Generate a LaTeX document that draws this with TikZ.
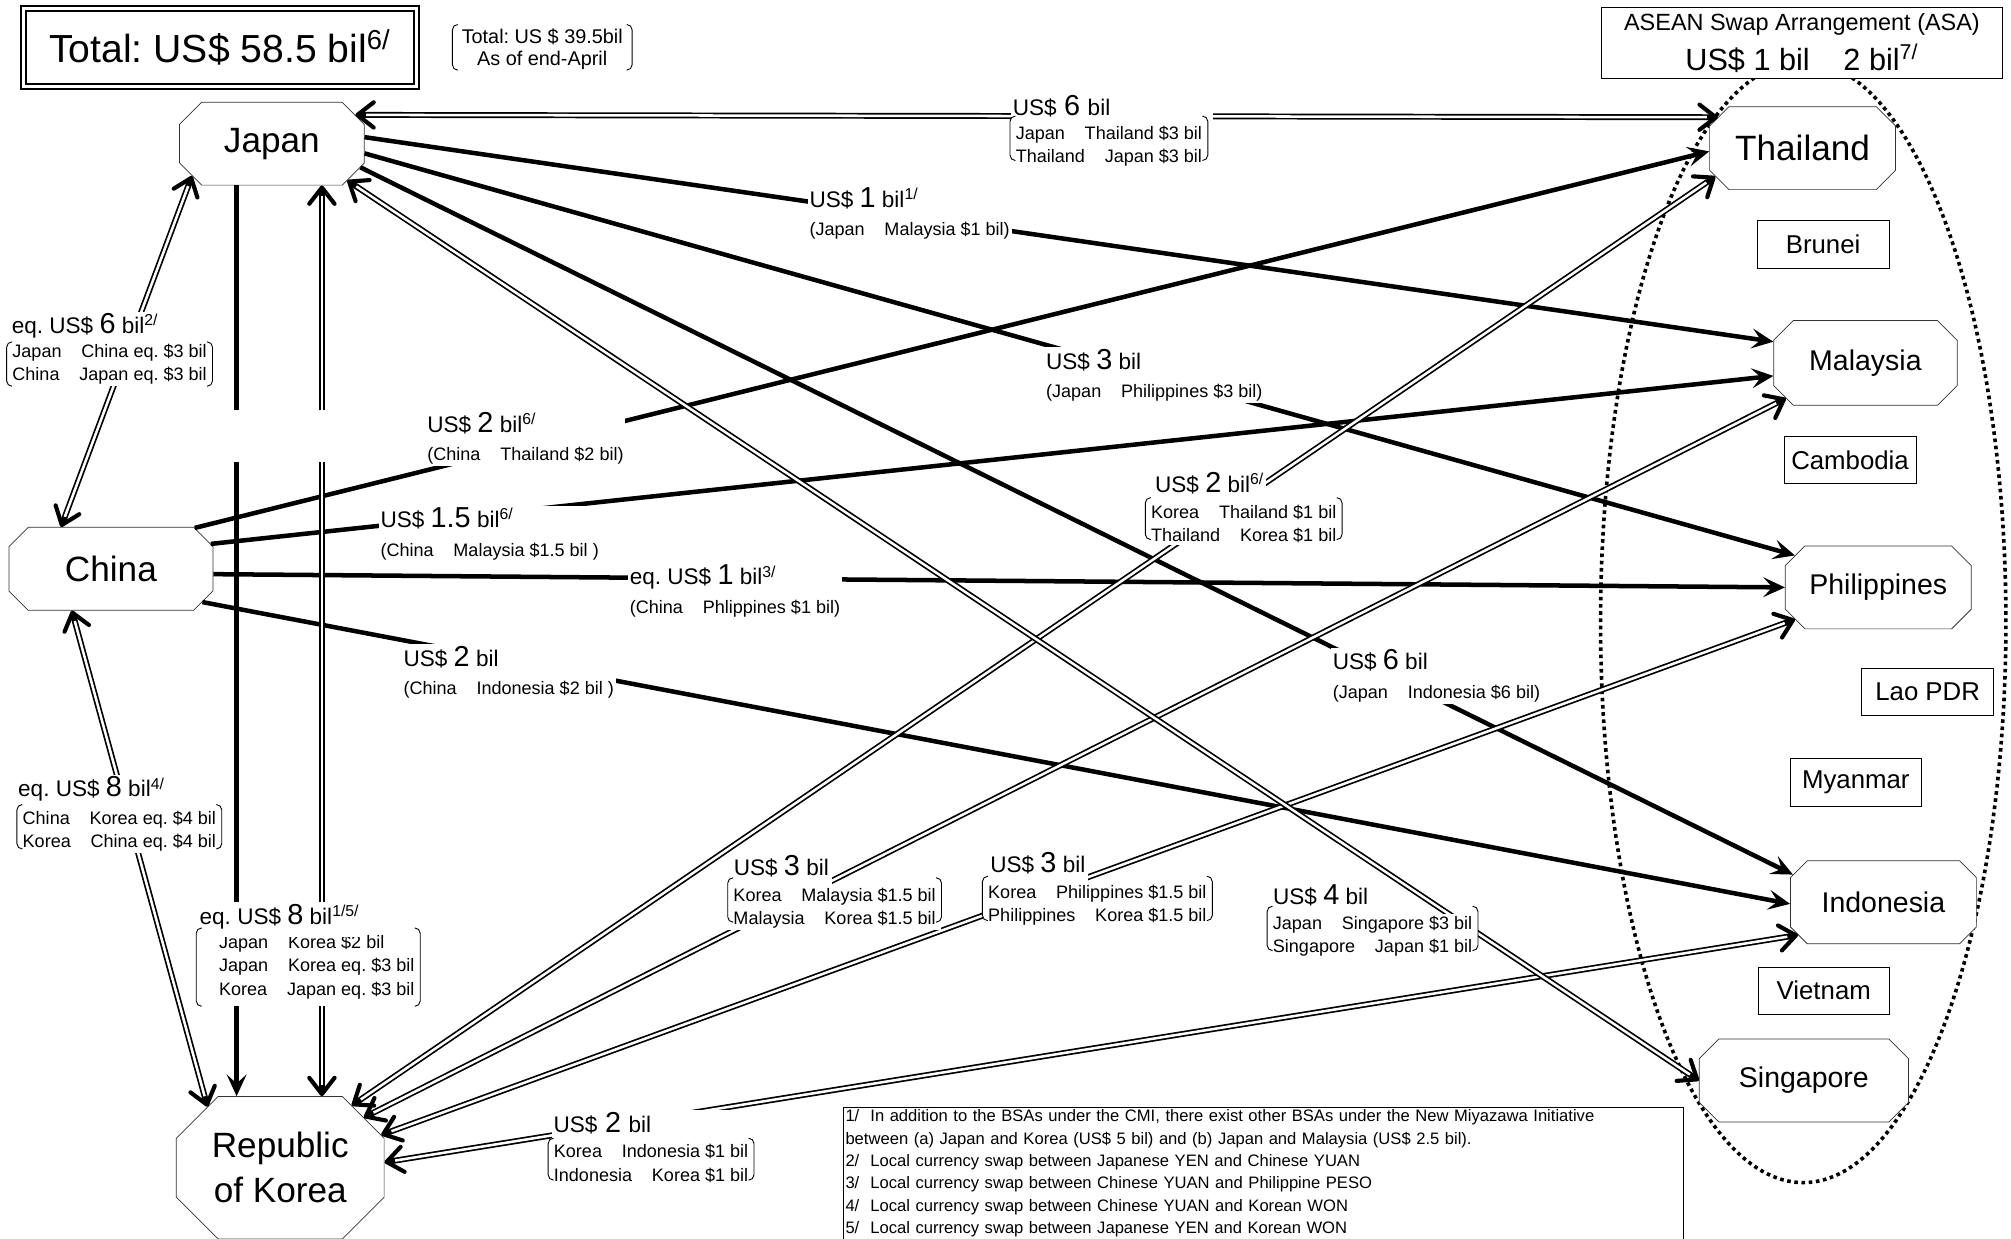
\documentclass[tikz,border=0pt]{standalone}
\usepackage{fontspec}
\setmainfont{Liberation Sans}
\usetikzlibrary{arrows.meta,positioning,shapes.misc}
\frenchspacing
\newcommand{\gap}{\hspace{1.1em}}
\newcommand{\usd}[2]{US\$ {\fontsize{16}{16}\selectfont #1} bil\textsuperscript{#2}}
\newcommand{\detl}[1]{{\fontsize{10}{12}\selectfont #1}}
\newcommand{\pairbrk}[2]{%
  \draw[brk] ([xshift=3pt,yshift=#2]#1.north west) -- ([yshift=#2]#1.north west)
    -- ([yshift=#2]#1.south west) -- ([xshift=3pt,yshift=#2]#1.south west);
  \draw[brk] ([xshift=-3pt,yshift=#2]#1.north east) -- ([yshift=#2]#1.north east)
    -- ([yshift=#2]#1.south east) -- ([xshift=-3pt,yshift=#2]#1.south east);}
\tikzset{
  dtip/.tip={Straight Barb[length=9pt,width=14pt,line width=2.3pt,round]},
  stip/.tip={Stealth[length=12pt,width=11pt,inset=5pt]},
  bigoct/.style={chamfered rectangle,chamfered rectangle xsep=13.5pt,draw=black!80,thin,fill=white,inner sep=0pt,minimum height=46pt,align=center,font=\fontsize{19.5}{25}\selectfont},
  oct/.style={bigoct,font=\fontsize{15.8}{19}\selectfont},
  member/.style={rectangle,draw,thin,fill=white,minimum width=73pt,minimum height=26.3pt,font=\fontsize{14.3}{17}\selectfont},
  titlebox/.style={rectangle,draw,double,line width=1pt,double distance=1.6pt,minimum width=217.7pt,minimum height=43.4pt,font=\fontsize{21.7}{26}\selectfont},
  asabox/.style={rectangle,draw,thin,fill=white,align=center,minimum width=222pt,minimum height=39pt,font=\fontsize{13}{22.5}\selectfont},
  notebox/.style={rectangle,draw,thin,fill=white,anchor=north west,align=left,inner sep=1.4pt,text width=463pt,font=\fontsize{9.2}{12.4}\selectfont},
  amt/.style={fill=white,inner sep=1pt,anchor=base west,text depth=6pt,font=\fontsize{12.5}{15}\selectfont},
  lbl/.style={fill=white,inner sep=1pt,anchor=west,align=left,font=\fontsize{12.5}{15.7}\selectfont},
  det/.style={fill=white,inner xsep=3pt,inner ysep=1pt,anchor=north west,align=left,font=\fontsize{10}{12.8}\selectfont},
  brk/.style={line width=0.5pt,rounded corners=3pt},
  ring/.style={line width=2pt,dash pattern=on 2pt off 2pt},
  jarrow/.style={line width=2.5pt,-stip},
  dbl/.style={line width=3.3pt,dtip-dtip,postaction={draw=white,line width=1.4pt,-,shorten <=6pt,shorten >=6pt}},
  dblhalf/.style={line width=3.3pt,-dtip,postaction={draw=white,line width=1.4pt,-,shorten >=6pt}}
}
\begin{document}
\begin{tikzpicture}[x=0.025cm,y=-0.025cm]
  \useasboundingbox (0,0) rectangle (1568,966);
  \clip (0,0) rectangle (1568,966);

  % ASA ring
  \draw[ring] (1406,485) ellipse [x radius=3.95cm,y radius=10.925cm];

  % countries
  \node[bigoct,minimum width=102.4pt] (japan) at (212,112) {Japan};
  \node[bigoct,minimum width=113.1pt] (china) at (86.5,443.5) {China};
  \node[bigoct,minimum width=110.3pt,minimum height=79pt,chamfered rectangle xsep=20pt] (korea) at (218.5,910.5) {Republic\\of Korea};
  \node[bigoct,minimum width=103.1pt] (thailand) at (1405.5,115.5) {Thailand};
  \node[oct,minimum width=101.7pt,minimum height=47pt] (malaysia) at (1454.5,283) {Malaysia};
  \node[oct,minimum width=103.1pt] (philippines) at (1464.5,458) {Philippines};
  \node[oct,minimum width=103.1pt] (indonesia) at (1468.5,703.5) {Indonesia};
  \node[oct,minimum width=116pt] (singapore) at (1406.5,842.5) {Singapore};
  \node[member] (brunei) at (1421.5,190.5) {Brunei};
  \node[member] (cambodia) at (1442.5,358.5) {Cambodia};
  \node[member] (lao) at (1503,539.5) {Lao PDR};
  \node[member] (myanmar) at (1447,610) {Myanmar};
  \node[member] (vietnam) at (1422,772.5) {Vietnam};

  % headers
  \node[asabox] (asa) at (1405,33.5) {ASEAN Swap Arrangement (ASA)\\{\fontsize{17}{19}\selectfont US\$ 1 bil\gap 2 bil\textsuperscript{7/}}};
  \node[titlebox] (total) at (171.5,37) {Total: US\$ 58.5 bil\textsuperscript{6/}};
  \node[det,anchor=center,align=center,inner xsep=5pt,font=\fontsize{11}{12.5}\selectfont] (tot) at (422.8,38.3) {Total: US \$ 39.5bil\\As of end-April};

  % break in the Japan--Korea lines
  \coordinate (jkupS) at (184.5,320);
  \coordinate (jklowS) at (184.5,360);
  \coordinate (jkupD) at (251,320);
  \coordinate (jklowD) at (251,360);

  % one-way swaps
  \draw[jarrow] (japan.4.8) -- (malaysia.167.2);
  \draw[jarrow] (japan.354.8) -- (philippines.159.1);
  \draw[jarrow] (japan.345.2) -- (indonesia.163.4);
  \draw[jarrow] (japan.south -| jkupS) -- (jkupS) (jklowS) -- (korea.north -| jklowS);
  \draw[jarrow] (china.26.6) -- (thailand.182.2);
  \draw[jarrow] (china.14.4) -- (malaysia.188.4);
  \draw[jarrow] (china.357) -- (philippines.180.5);
  \draw[jarrow] (china.340) -- (indonesia.181.7);

  % two-way swaps
  \draw[dbl] (japan.19.5) -- (thailand.160.3);
  \draw[dblhalf] (jkupD) -- (japan.south -| jkupD);
  \draw[dblhalf] (jklowD) -- (korea.north -| jklowD);
  \draw[dbl] (china.140.9) -- (japan.202.1);
  \draw[dbl] (china.227.4) -- (korea.140.9);
  \draw[dbl] (korea.41.9) -- (thailand.198.6);
  \draw[dbl] (korea.31.9) -- (malaysia.204);
  \draw[dbl] (korea.18.5) -- (philippines.201.5);
  \draw[dbl] (korea.3.5) -- (indonesia.201.3);
  \draw[dbl] (japan.334.8) -- (singapore.west);

  % amounts on the one-way lines
  \node[lbl] (jmL) at (629.5,166.6) {\usd{1}{1/}\\\detl{(Japan\gap Malaysia \$1 bil)}};
  \node[lbl] (jpL) at (814,292.7) {\usd{3}{}\\\detl{(Japan\gap Philippines \$3 bil)}};
  \node[lbl] (jiL) at (1037.5,527) {\usd{6}{}\\\detl{(Japan\gap Indonesia \$6 bil)}};
  \node[lbl] (ctL) at (331.5,341.5) {\usd{2}{6/}\\\detl{(China\gap Thailand \$2 bil)}};
  \node[lbl] (cmL) at (295,416.2) {\usd{1.5}{6/}\\\detl{(China\gap Malaysia \$1.5 bil )}};
  \node[lbl] (cpL) at (489.4,460.8) {eq. \usd{1}{3/}\\\detl{(China\gap Phlippines \$1 bil)}};
  \node[lbl] (ciL) at (313,524.2) {\usd{2}{}\\\detl{(China\gap Indonesia \$2 bil )}};

  % amounts on the two-way lines
  \node[amt,text width=110pt] (jtA) at (788,90) {\usd{6}{}};
  \node[det] (jtD) at (787.5,96.8) {Japan\gap Thailand \$3 bil\\Thailand\gap Japan \$3 bil};
  \node[amt] (jcA) at (7.5,260) {eq. \usd{6}{2/}};
  \node[det] (jcD) at (5.2,266.5) {Japan\gap China eq. \$3 bil\\China\gap Japan eq. \$3 bil};
  \node[amt] (ckA) at (12.5,621.4) {eq. \usd{8}{4/}};
  \node[det] (ckD) at (13.2,630.8) {China\gap Korea eq. \$4 bil\\Korea\gap China eq. \$4 bil};
  \node[det,inner ysep=4pt] (jkD) at (153,723.5) {\hspace*{9.5pt}Japan\gap Korea \$2 bil\\ \hspace*{9.5pt}Japan\gap Korea eq. \$3 bil\\ \hspace*{9.5pt}Korea\gap Japan eq. \$3 bil};
  \node[amt] (jkA) at (154,720.5) {eq. \usd{8}{1/5/}};
  \node[amt] (ktA) at (899,383.7) {\usd{2}{6/}};
  \node[det] (ktD) at (893,392.5) {Korea\gap Thailand \$1 bil\\Thailand\gap Korea \$1 bil};
  \node[amt] (kmA) at (570.5,682.8) {\usd{3}{}};
  \node[det] (kmD) at (567.4,690.7) {Korea\gap Malaysia \$1.5 bil\\Malaysia\gap Korea \$1.5 bil};
  \node[amt] (kpA) at (770.5,680) {\usd{3}{}};
  \node[det] (kpD) at (766,688.1) {Korea\gap Philippines \$1.5 bil\\Philippines\gap Korea \$1.5 bil};
  \node[amt,text width=119pt] (kiA) at (430,882.8) {\usd{2}{}};
  \node[det] (kiD) at (427.4,890.8) {Korea\gap Indonesia \$1 bil\\Indonesia\gap Korea \$1 bil};
  \node[amt] (jsA) at (991,704.9) {\usd{4}{}};
  \node[det] (jsD) at (988,712.6) {Japan\gap Singapore \$3 bil\\Singapore\gap Japan \$1 bil};

  \foreach \n/\s in {jtD/4.5pt,jcD/0pt,ckD/2.5pt,jkD/0pt,ktD/3.2pt,kmD/4.5pt,kpD/3.5pt,kiD/2.4pt,jsD/4.3pt,tot/1pt}
    {\pairbrk{\n}{\s}}

  % footnotes
  \node[notebox] (notes) at (657,863) {1/\ \ In addition to the BSAs under the CMI, there exist other BSAs under the New Miyazawa Initiative\\
    between (a) Japan and Korea (US\$ 5 bil) and (b) Japan and Malaysia (US\$ 2.5 bil).\\
    2/\ \ Local currency swap between Japanese YEN and Chinese YUAN\\
    3/\ \ Local currency swap between Chinese YUAN and Philippine PESO\\
    4/\ \ Local currency swap between Chinese YUAN and Korean WON\\
    5/\ \ Local currency swap between Japanese YEN and Korean WON\\[12pt]\mbox{}};
\end{tikzpicture}
\end{document}
